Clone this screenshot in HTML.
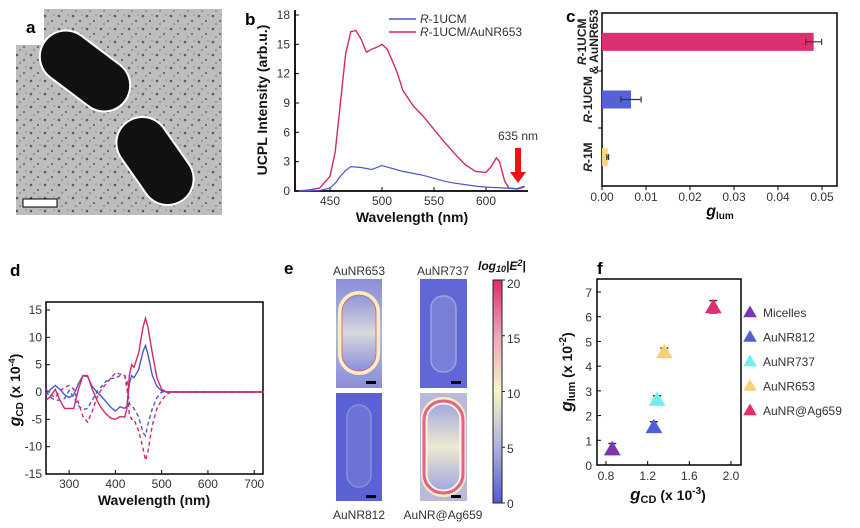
<!DOCTYPE html>
<html><head><meta charset="utf-8"><style>
html,body{margin:0;padding:0;background:#fff;}
svg{display:block;font-family:"Liberation Sans",Arial,sans-serif;}
.tk{font-size:12px;fill:#333;}
.ttl{font-size:14px;font-weight:bold;fill:#111;}
.pl{font-size:17px;font-weight:bold;fill:#000;}
</style></head><body>
<svg id="fig" width="860" height="528" viewBox="0 0 860 528" xmlns="http://www.w3.org/2000/svg">
<defs>
<pattern id="dots" width="14" height="13" patternUnits="userSpaceOnUse">
<rect width="14" height="13" fill="#bdbdbd"/>
<circle cx="3" cy="3" r="1.3" fill="#5a5a5a"/><circle cx="10" cy="8" r="1.1" fill="#6a6a6a"/><circle cx="6" cy="11" r="0.9" fill="#7a7a7a"/><circle cx="12" cy="2" r="0.8" fill="#8a8a8a"/>
</pattern>
<linearGradient id="cbar" x1="0" y1="1" x2="0" y2="0">
<stop offset="0" stop-color="#5258d2"/><stop offset="0.25" stop-color="#aeb2e0"/><stop offset="0.5" stop-color="#f7f5c6"/><stop offset="0.75" stop-color="#eea6b8"/><stop offset="1" stop-color="#df2c6c"/>
</linearGradient>
<linearGradient id="rodIn" x1="0" y1="0" x2="0" y2="1">
<stop offset="0" stop-color="#9096d8"/><stop offset="0.5" stop-color="#d8d8dc"/><stop offset="1" stop-color="#8a8fd8"/>
</linearGradient>
<linearGradient id="rodIn2" x1="0" y1="0" x2="0" y2="1">
<stop offset="0" stop-color="#a4a8dc"/><stop offset="0.5" stop-color="#ecead0"/><stop offset="1" stop-color="#a4a8dc"/>
</linearGradient>
<linearGradient id="bg653" x1="0" y1="0" x2="0" y2="1">
<stop offset="0" stop-color="#8a8ed8"/><stop offset="0.5" stop-color="#b8bade"/><stop offset="1" stop-color="#8a8ed8"/>
</linearGradient>
</defs>

<!-- Panel a -->
<g>
<rect x="16" y="9" width="206" height="206" fill="url(#dots)"/>
<rect x="14" y="7" width="30" height="38" fill="#fff"/>
<text x="26" y="33" class="pl">a</text>
<g transform="translate(85,71) rotate(37)"><rect x="-51" y="-27" width="102" height="54" rx="27" fill="#fff"/><rect x="-49" y="-25" width="98" height="50" rx="25" fill="#111"/></g>
<g transform="translate(155,161) rotate(55)"><rect x="-49" y="-27" width="98" height="54" rx="27" fill="#fff"/><rect x="-47" y="-25" width="94" height="50" rx="25" fill="#111"/></g>
<rect x="23" y="199" width="34" height="8" fill="#fff" stroke="#000" stroke-width="1"/>
</g>

<g id="pb"></g>
<g id="pc"></g>
<g id="pd"></g>

<!-- Panel e -->
<g>
<text x="284" y="274" class="pl">e</text>
<text x="359" y="275" text-anchor="middle" class="tk" font-size="13">AuNR653</text>
<text x="443" y="275" text-anchor="middle" class="tk" font-size="13">AuNR737</text>
<text x="359" y="519" text-anchor="middle" class="tk" font-size="13">AuNR812</text>
<text x="443" y="519" text-anchor="middle" class="tk" font-size="13">AuNR@Ag659</text>
<g>
<rect x="336" y="279" width="46" height="109" fill="url(#bg653)"/>
<rect x="340" y="293" width="38" height="80" rx="19" fill="none" stroke="#f4f0c0" stroke-width="4"/>
<rect x="342" y="295" width="34" height="76" rx="17" fill="url(#rodIn)" stroke="#e0507a" stroke-width="0.8"/>
<rect x="366" y="381" width="10" height="3" fill="#000"/></g>
<g>
<rect x="420" y="279" width="47" height="109" fill="#6167d4"/>
<rect x="431" y="296" width="25" height="76" rx="12" fill="#7a7fd6" stroke="#9ea2de" stroke-width="1.5"/>
<rect x="451" y="381" width="10" height="3" fill="#000"/></g>
<g>
<rect x="336" y="393" width="46" height="108" fill="#5c62d3"/>
<rect x="347" y="405" width="24" height="82" rx="12" fill="#6c72d6" stroke="#8a8fdc" stroke-width="1.5"/>
<rect x="366" y="495" width="10" height="3" fill="#000"/></g>
<g>
<rect x="420" y="393" width="47" height="108" fill="#b8bad8"/>
<rect x="421" y="397" width="45" height="100" rx="22" fill="#f4f0c4"/>
<rect x="424" y="401" width="39" height="92" rx="19" fill="none" stroke="#e6608a" stroke-width="3"/>
<rect x="427" y="404" width="33" height="86" rx="16" fill="url(#rodIn2)" stroke="#fff" stroke-width="1"/>
<rect x="451" y="495" width="10" height="3" fill="#000"/></g>
<rect x="493" y="280" width="9" height="223" fill="url(#cbar)" stroke="#222" stroke-width="1"/>
<text x="478" y="270" font-size="12" font-weight="bold" font-style="italic" fill="#111">log<tspan font-size="9" dy="2">10</tspan><tspan dy="-2">|E</tspan><tspan font-size="9" dy="-4">2</tspan><tspan dy="4">|</tspan></text>
<g>
<text x="507" y="288" class="tk" font-size="13">20</text><text x="507" y="343" class="tk" font-size="13">15</text><text x="507" y="398" class="tk" font-size="13">10</text><text x="507" y="453" class="tk" font-size="13">5</text><text x="507" y="508" class="tk" font-size="13">0</text>
<path d="M502 280h3M502 335.75h3M502 391.5h3M502 447.25h3M502 503h3" stroke="#222"/>
</g>
</g>

<g id="pf"></g>
</svg>
<script>
// ---------- Panel b data ----------
const bWlPink=[420,430,440,450,455,460,465,470,475,480,485,490,495,500,505,510,515,520,525,530,540,550,560,570,580,590,600,605,610,613,618,622,630,637];
const bPink=[0,0.1,0.3,1.5,4,9,14,16.3,16.4,15.5,14.2,14.5,14.7,15.0,14.5,13.3,12,10.3,9.5,8.7,7.6,6.3,5.0,3.8,2.7,2.0,1.9,2.5,3.4,3.0,1.0,0.3,0.2,0.4];
const bWlBlue=[420,440,450,455,460,465,470,480,490,500,510,520,530,540,550,560,570,580,590,600,610,620,630,637];
const bBlue=[0,0.05,0.3,0.8,1.5,2.1,2.5,2.4,2.2,2.6,2.3,2.0,1.8,1.6,1.3,1.0,0.8,0.65,0.5,0.4,0.35,0.3,0.25,0.5];
const bXTicks=[450,500,550,600];
const bYTicks=[0,3,6,9,12,15,18];
// ---------- Panel c data ----------
const cCats=["R-1M","R-1UCM","R-1UCM & AuNR653"];
const cVals=[0.0013,0.0066,0.0481];
const cErr=[0.0002,0.0023,0.0018];
const cColors=["#f7d77a","#5561d8","#de2f73"];
const cXTicks=[0,0.01,0.02,0.03,0.04,0.05];
// ---------- Panel d data ----------
const dWl=[250,260,270,280,290,300,310,320,330,340,350,360,370,380,390,400,410,420,425,430,435,440,450,460,465,470,480,490,500,510,520,530,550,600,650,700,720];
const dPinkSolid=[-1.5,-0.8,0.5,-1.5,-3,-3,-3,0.5,3,3,0.5,-1.5,-3,-4,-4.8,-5,-4.5,-4.6,-3,3,5,4.5,7,12,13.5,12,7,2.5,0.5,0,0,0,0,0,0,0,0];
const dBlueSolid=[-0.5,0.5,1.2,0.5,-0.5,-1,-0.5,1.5,3,2.8,1,0,-0.8,-1.8,-2.8,-3.5,-2.7,-3,-2.5,1.5,3,2.6,4,7.5,8.5,7,3,1,0.2,0,0,0,0,0,0,0,0];
const dBlueDash=[0,-1,-1.5,-1.5,-1.2,0.3,-1,-2.5,-3.2,-3,-1.5,0,1,2,2.5,2.5,3,3,2,-2.2,-2.5,-3,-4.5,-7.5,-8,-6,-3,-1,0,0,0,0,0,0,0,0,0];
const dPinkDash=[0.5,-0.5,-1,0.2,0.8,1.2,0.5,-2,-4.5,-5.5,-3.5,-1,0.5,1.5,2.5,3.5,3.3,3,0.5,-4,-5,-5,-7,-10.5,-12.5,-11,-6,-3,-1.5,-0.5,0,0,0,0,0,0,0];
const dXTicks=[300,400,500,600,700];
const dYTicks=[-15,-10,-5,0,5,10,15];
// ---------- Panel f data ----------
const fNames=["Micelles","AuNR812","AuNR737","AuNR653","AuNR@Ag659"];
const fX=[0.86,1.26,1.29,1.36,1.83];
const fY=[0.65,1.55,2.65,4.58,6.4];
const fErr=[0.22,0.2,0.15,0.15,0.25];
const fColors=["#7a35b2","#4f5fd6","#6ff0ee","#f5d173","#de2f73"];
const fXTicks=[0.8,1.2,1.6,2.0];
const fYTicks=[0,1,2,3,4,5,6,7];

const NS="http://www.w3.org/2000/svg";
function mk(parent,tag,attrs,txt){const e=document.createElementNS(NS,tag);for(const k in attrs)e.setAttribute(k,attrs[k]);if(txt!==undefined)e.textContent=txt;parent.appendChild(e);return e;}
function lin(d0,d1,r0,r1){return v=>r0+(v-d0)*(r1-r0)/(d1-d0);}
function pathOf(xs,ys,sx,sy){return xs.map((x,i)=>(i?"L":"M")+sx(x).toFixed(1)+" "+sy(ys[i]).toFixed(1)).join("");}

// ===== Panel b =====
(function(){
const g=document.getElementById('pb');
const sx=lin(450,600,330,486), sy=lin(0,18,191,15);
let t=mk(g,'text',{x:245,y:25,class:'pl'},'b');


let ax=mk(g,'path',{d:'M295 10V191H528',fill:'none',stroke:'#000','stroke-width':1.8});


bXTicks.forEach(v=>{mk(g,'line',{x1:sx(v),x2:sx(v),y1:191,y2:187,stroke:'#000'});
 const l=mk(g,'text',{x:sx(v),y:205,'text-anchor':'middle',class:'tk'},v);
 
 });
bYTicks.forEach(v=>{mk(g,'line',{x1:295,x2:299,y1:sy(v),y2:sy(v),stroke:'#000'});
 const l=mk(g,'text',{x:290,y:sy(v)+4,'text-anchor':'end',class:'tk'},v);
 
 });
let xt=mk(g,'text',{x:412,y:222,'text-anchor':'middle',class:'ttl'},'Wavelength (nm)');


let yt=mk(g,'text',{x:0,y:0,'text-anchor':'middle',class:'ttl',transform:'translate(267,100) rotate(-90)'},'UCPL Intensity (arb.u.)');


let p1=mk(g,'path',{d:pathOf(bWlPink,bPink,sx,sy),fill:'none',stroke:'#d6276a','stroke-width':1.4});


let p2=mk(g,'path',{d:pathOf(bWlBlue,bBlue,sx,sy),fill:'none',stroke:'#4a58d0','stroke-width':1.2});


[["R","-1UCM","#4a58d0",19],["R","-1UCM/AuNR653","#d6276a",32]].forEach(r=>{
 const lg=mk(g,'g',{});
 
 
 mk(lg,'line',{x1:389,x2:416,y1:r[3],y2:r[3],stroke:r[2],'stroke-width':1.5});
 const tx=mk(lg,'text',{x:420,y:r[3]+4,class:'tk'});
 mk(tx,'tspan',{'font-style':'italic'},r[0]); mk(tx,'tspan',{},r[1]);
});
let an=mk(g,'text',{x:518,y:140,'text-anchor':'middle',class:'tk','font-size':11},'635 nm');


let ar=mk(g,'path',{d:'M515 148h6v24h5l-8 11l-8-11h5z',fill:'#f01010'});


})();

// ===== Panel c =====
(function(){
const g=document.getElementById('pc');
const sx=lin(0,0.05,602,822);
const bandH=(186-13)/3;
const cy=i=>186-bandH*(i+0.5);
let t=mk(g,'text',{x:566,y:22,class:'pl'},'c');


let box=mk(g,'rect',{x:602,y:13,width:235,height:173,fill:'none',stroke:'#000','stroke-width':1.5});


[71,128].forEach(y=>mk(g,'line',{x1:602,x2:598,y1:y,y2:y,stroke:'#000'}));
cXTicks.forEach(v=>{mk(g,'line',{x1:sx(v),x2:sx(v),y1:186,y2:190,stroke:'#000'});
 const l=mk(g,'text',{x:sx(v),y:201,'text-anchor':'middle',class:'tk'},v.toFixed(2));
 
 });
cVals.forEach((v,i)=>{
 const b=mk(g,'rect',{x:sx(0),y:cy(i)-9,width:sx(v)-sx(0),height:18,fill:cColors[i]});
 
 
 const e=mk(g,'path',{d:`M${sx(v-cErr[i])} ${cy(i)}H${sx(v+cErr[i])}M${sx(v-cErr[i])} ${cy(i)-3}v6M${sx(v+cErr[i])} ${cy(i)-3}v6`,stroke:'#333','stroke-width':1.2,fill:'none'});
 
 
 const lines=cCats[i].split(' & ');
 const tx=mk(g,'text',{transform:`translate(${lines.length>1?586:592},${cy(i)}) rotate(-90)`,'text-anchor':'middle','font-size':12,'font-weight':'bold',fill:'#222'});
 
 
 lines.forEach((ln,j)=>{const ts=mk(tx,'tspan',{x:0,dy:j?12:0});
  const m=ln.match(/^R(-.*)$/); if(m){mk(ts,'tspan',{'font-style':'italic'},'R');mk(ts,'tspan',{},m[1]);} else ts.textContent='& '+ln;});
});
let xt=mk(g,'text',{x:720,y:216,'text-anchor':'middle',class:'ttl'});


mk(xt,'tspan',{'font-style':'italic','font-size':16},'g');mk(xt,'tspan',{'font-size':10,dy:3},'lum');
})();

// ===== Panel d =====
(function(){
const g=document.getElementById('pd');
const sx=lin(250,719,46,263), sy=lin(-15,15,474,310);
let t=mk(g,'text',{x:10,y:276,class:'pl'},'d');


let box=mk(g,'rect',{x:46,y:302,width:217,height:172,fill:'none',stroke:'#000','stroke-width':1.5});


dXTicks.forEach(v=>{mk(g,'line',{x1:sx(v),x2:sx(v),y1:474,y2:470,stroke:'#000'});
 const l=mk(g,'text',{x:sx(v),y:488,'text-anchor':'middle',class:'tk'},v);
 
 });
dYTicks.forEach(v=>{mk(g,'line',{x1:46,x2:50,y1:sy(v),y2:sy(v),stroke:'#000'});
 const l=mk(g,'text',{x:42,y:sy(v)+4,'text-anchor':'end',class:'tk'},v);
 
 });
let xt=mk(g,'text',{x:154,y:505,'text-anchor':'middle',class:'ttl','font-size':15},'Wavelength (nm)');


let yt=mk(g,'text',{transform:'translate(20,390) rotate(-90)','text-anchor':'middle',class:'ttl'});


mk(yt,'tspan',{'font-style':'italic','font-size':16},'g');mk(yt,'tspan',{'font-size':10,dy:3},'CD');mk(yt,'tspan',{dy:-3},' (x 10');mk(yt,'tspan',{'font-size':9,dy:-5},'-4');mk(yt,'tspan',{dy:5},')');
[[dBlueDash,'#4a58d0','4 3','d-series-blue-dashed'],[dPinkDash,'#d6276a','4 3','d-series-pink-dashed'],[dBlueSolid,'#4a58d0','','d-series-blue-solid'],[dPinkSolid,'#d6276a','','d-series-pink-solid']].forEach(s=>{
 const p=mk(g,'path',{d:pathOf(dWl,s[0],sx,sy),fill:'none',stroke:s[1],'stroke-width':1.4,'stroke-dasharray':s[2]});
 
 
});
})();

// ===== Panel f =====
(function(){
const g=document.getElementById('pf');
const sx=lin(0.8,2.0,606,731), sy=lin(0,7,465,292);
let t=mk(g,'text',{x:597,y:274,class:'pl'},'f');


let box=mk(g,'rect',{x:597,y:279,width:144,height:186,fill:'none',stroke:'#000','stroke-width':1.5});


fXTicks.forEach(v=>{mk(g,'line',{x1:sx(v),x2:sx(v),y1:465,y2:461,stroke:'#000'});
 const l=mk(g,'text',{x:sx(v),y:480,'text-anchor':'middle',class:'tk','font-size':13},v.toFixed(1));
 
 });
fYTicks.forEach(v=>{mk(g,'line',{x1:597,x2:601,y1:sy(v),y2:sy(v),stroke:'#000'});
 const l=mk(g,'text',{x:592,y:sy(v)+5,'text-anchor':'end',class:'tk','font-size':13},v);
 
 });
let xt=mk(g,'text',{x:668,y:500,'text-anchor':'middle',class:'ttl','font-size':15});


mk(xt,'tspan',{'font-style':'italic','font-size':17},'g');mk(xt,'tspan',{'font-size':11,dy:3},'CD');mk(xt,'tspan',{dy:-3},' (x 10');mk(xt,'tspan',{'font-size':10,dy:-6},'-3');mk(xt,'tspan',{dy:6},')');
let yt=mk(g,'text',{transform:'translate(572,372) rotate(-90)','text-anchor':'middle',class:'ttl','font-size':15});


mk(yt,'tspan',{'font-style':'italic','font-size':17},'g');mk(yt,'tspan',{'font-size':11,dy:3},'lum');mk(yt,'tspan',{dy:-3},' (x 10');mk(yt,'tspan',{'font-size':10,dy:-6},'-2');mk(yt,'tspan',{dy:6},')');
const tri=(cx,cy,s)=>`M${cx} ${cy-s}L${cx+s*1.05} ${cy+s*0.8}L${cx-s*1.05} ${cy+s*0.8}Z`;
fX.forEach((x,i)=>{
 const px=sx(x),py=sy(fY[i]),e1=sy(fY[i]+fErr[i]),e2=sy(fY[i]-fErr[i]);
 const eb=mk(g,'path',{d:`M${px} ${e1}V${e2}M${px-4} ${e1}h8M${px-4} ${e2}h8`,stroke:'#333','stroke-width':1.5,fill:'none'});
 
 
 const m=mk(g,'path',{d:tri(px,py,8),fill:fColors[i]});
 
 
 const ly=312+i*24.5;
 const lg=mk(g,'g',{});
 
 
 mk(lg,'path',{d:tri(750,ly,6.5),fill:fColors[i]});
 mk(lg,'text',{x:763,y:ly+5,class:'tk','font-size':13},fNames[i]);
});
})();
</script>
</body></html>
